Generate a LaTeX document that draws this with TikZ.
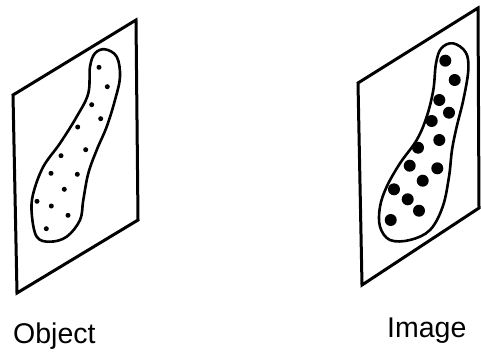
\documentclass[tikz,border=0pt]{standalone}
\usepackage{fontspec}
\setmainfont{Liberation Sans}
\begin{document}
\begin{tikzpicture}[x=1pt,y=-1pt,
  frame/.style={line width=3pt,line join=miter},
  blob/.style={line width=2.6pt},
  smalldot/.style={fill=black},
  bigdot/.style={fill=black},
  lbl/.style={anchor=base west,inner sep=0pt,font=\fontsize{28.5}{34}\selectfont}]
\useasboundingbox (0,0) rectangle (481,356);
% left panel
\draw[frame] (13,95) -- (136,20) -- (138,220) -- (17,293) -- cycle;
\draw[blob] plot[smooth cycle,tension=0.6] coordinates {(105,49.3) (116.7,56.7) (120,76.7) (115,100) (106.7,126.7) (96.7,150) (88.3,173.3) (83.3,200) (80,220) (66.7,236.7) (50,241.7) (36.7,236.7) (31.7,213.3) (33.3,193.3) (43.3,166.7) (60,143.3) (76.7,116.7) (88.3,93.3) (90,66.7) (95,53.3)};
\foreach \p in {(99,67.3), (107.3,86.7), (91.7,104.7), (100.7,118.7), (77.7,127), (85.7,149.7), (61,155.7), (51,173.3), (77.3,174.3), (64.3,189.3), (37,201.3), (51.3,206), (68,215.3), (46.3,228.7)}
  \fill[smalldot] \p circle (2.5);
% right panel
\draw[frame] (358,83) -- (478,8) -- (479,208) -- (362,285) -- cycle;
\draw[blob] plot[smooth cycle,tension=0.6] coordinates {(453,43.3) (465.7,52.3) (468.3,70) (463.3,100) (456.7,126.7) (452,150) (449,176.7) (442.7,206.7) (430,230) (410,240) (390,240) (380,226.7) (380,206.7) (386.7,186.7) (400,163.3) (416.7,140) (426.7,116.7) (433.3,90) (436,63.3) (441.3,48.3)};
\foreach \p in {(445.3,60.7), (454.7,80), (439.3,100), (449,112.7), (431.7,121), (439.3,140), (418,147.7), (437.3,168.3), (409.7,165.7), (422.7,180.7), (394,189.3), (407.7,199.3), (419,210.7), (390.7,220)}
  \fill[bigdot] \p circle (6);
% labels
\node[lbl] (object) at (13,343) {Object};
\node[lbl] (image) at (387,337) {Image};
\end{tikzpicture}
\end{document}
